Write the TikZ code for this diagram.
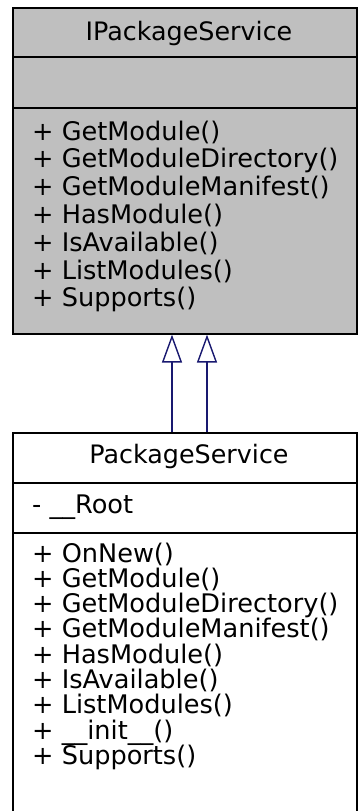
\documentclass[tikz,border=0pt]{standalone}
\usepackage{fontspec}
\setmainfont{DejaVu Sans}
\usetikzlibrary{positioning,arrows.meta}
\definecolor{ifgray}{HTML}{BFBFBF}
\definecolor{inhblue}{HTML}{191970}
\tikzset{
  clsbox/.style={draw=black,line width=1.6pt,inner sep=0pt,minimum width=344pt},
  sepln/.style={line width=1.6pt},
  member/.style={anchor=base west,inner sep=0pt,font=\fontsize{25.6}{28}\selectfont},
  ctitle/.style={anchor=base,inner sep=0pt,font=\fontsize{25.4}{28}\selectfont},
  inherit/.style={line width=1.4pt,draw=inhblue,
    -{Triangle[open,fill=white,length=28pt,width=20pt,line width=1.4pt]}},
}
\begin{document}
\begin{tikzpicture}[x=1pt,y=-1pt]
  \useasboundingbox (0,0) rectangle (357,811);
  % interface class
  \node[clsbox,fill=ifgray,minimum height=326pt,anchor=north west] (ips) at (12,7) {};
  \draw[sepln] (12,57) -- (356,57);
  \draw[sepln] (12,108) -- (356,108);
  \node[ctitle] (ipsname) at (189,40) {IPackageService};
  \foreach \m [count=\i from 0] in {GetModule(),GetModuleDirectory(),GetModuleManifest(),
      HasModule(),IsAvailable(),ListModules(),Supports()}{
    \node[member] (ipsop\i) at (32,{140+27.8*\i}) {+ \m};
  }
  % implementing class
  \node[clsbox,fill=white,minimum height=381pt,anchor=north west] (ps) at (12,432) {};
  \draw[sepln] (12,483) -- (356,483);
  \draw[sepln] (12,533) -- (356,533);
  \node[ctitle] (psname) at (189,463) {PackageService};
  \node[member] (psattr) at (32,513) {- \_\_Root};
  \foreach \m [count=\i from 0] in {OnNew(),GetModule(),GetModuleDirectory(),GetModuleManifest(),
      HasModule(),IsAvailable(),ListModules(),\_\_init\_\_(),Supports()}{
    \node[member] (psop\i) at (32,{562+25.3*\i}) {+ \m};
  }
  % generalisation
  \coordinate (ga) at (172,0);
  \coordinate (gb) at (207,0);
  \draw[inherit] (ps.north -| ga) -- (ips.south -| ga);
  \draw[inherit] (ps.north -| gb) -- (ips.south -| gb);
\end{tikzpicture}
\end{document}
